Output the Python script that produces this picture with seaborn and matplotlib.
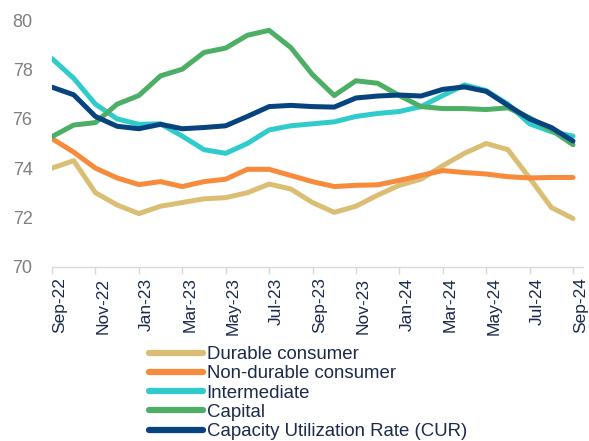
import numpy as np
import pandas as pd
import matplotlib
matplotlib.use("Agg")
import matplotlib.pyplot as plt
import matplotlib.transforms as mtransforms
import seaborn as sns

# ---------- data (monthly Sep-22 .. Sep-24) ----------
months = pd.date_range("2022-09-01", "2024-09-01", freq="MS")
tick_labels = ["Sep-22", "Nov-22", "Jan-23", "Mar-23", "May-23", "Jul-23", "Sep-23",
               "Nov-23", "Jan-24", "Mar-24", "May-24", "Jul-24", "Sep-24"]

durable = [74.0, 74.3, 73.0, 72.5, 72.15, 72.45, 72.6, 72.75, 72.8, 73.0, 73.35, 73.15, 72.6,
           72.2, 72.45, 72.9, 73.3, 73.55, 74.1, 74.6, 75.0, 74.75, 73.6, 72.4, 71.95]
non_durable = [75.2, 74.65, 74.0, 73.6, 73.33, 73.45, 73.25, 73.45, 73.55, 73.95, 73.95, 73.7, 73.45,
               73.25, 73.3, 73.32, 73.5, 73.7, 73.9, 73.82, 73.76, 73.65, 73.6, 73.62, 73.62]
intermediate = [78.45, 77.65, 76.6, 76.0, 75.78, 75.8, 75.3, 74.75, 74.6, 75.0, 75.55, 75.72, 75.8,
                75.88, 76.1, 76.22, 76.3, 76.5, 76.95, 77.38, 77.15, 76.6, 75.8, 75.48, 75.3]
capital = [75.28, 75.75, 75.85, 76.6, 76.95, 77.75, 78.02, 78.7, 78.88, 79.4, 79.6, 78.9, 77.8,
           76.95, 77.55, 77.45, 76.95, 76.5, 76.42, 76.42, 76.38, 76.45, 76.05, 75.55, 74.95]
cur = [77.29, 76.98, 76.1, 75.7, 75.6, 75.78, 75.6, 75.65, 75.72, 76.1, 76.5, 76.55, 76.5,
       76.48, 76.85, 76.93, 76.97, 76.93, 77.2, 77.3, 77.12, 76.55, 76.0, 75.65, 75.1]

series = {
    "Durable consumer": durable,
    "Non-durable consumer": non_durable,
    "Intermediate": intermediate,
    "Capital": capital,
    "Capacity Utilization Rate (CUR)": cur,
}
colors = ["#D9BE73", "#F78B3B", "#30CCCC", "#4CAF65", "#06437F"]

frames = []
for name, vals in series.items():
    frames.append(pd.DataFrame({"pos": np.arange(len(months)), "value": vals, "series": name}))
df = pd.concat(frames, ignore_index=True)

# ---------- plot ----------
sns.set_style("white")
plt.rcParams["font.family"] = ["Liberation Sans", "DejaVu Sans"]

fig = plt.figure(figsize=(5.89, 4.41), dpi=100)
ax = fig.add_axes([52 / 589, 1 - 266.5 / 441, 531 / 589, 246 / 441])

sns.lineplot(data=df, x="pos", y="value", hue="series", palette=colors,
             linewidth=3.6, ax=ax, legend=False, solid_capstyle="round",
             solid_joinstyle="round")

ax.set_xlim(0, 24.46)
ax.set_ylim(70, 80)
ax.set_yticks(np.arange(70, 81, 2))
ax.set_xticks(np.arange(0, 25, 2))
ax.set_xticklabels(tick_labels, rotation=90, fontsize=12.5, color="#1B2A4A", ha="left")
offset = mtransforms.ScaledTranslation(0.06, 0, fig.dpi_scale_trans)
for lbl in ax.get_xticklabels():
    lbl.set_transform(lbl.get_transform() + offset)
ax.tick_params(axis="y", length=0, labelsize=13, labelcolor="#7F7F7F", pad=14)
ax.tick_params(axis="x", length=5, color="#D9D9D9", width=1, pad=3, direction="out")
ax.xaxis.set_ticks_position("bottom")
ax.set_xlabel("")
ax.set_ylabel("")

for s in ["top", "right", "left"]:
    ax.spines[s].set_visible(False)
ax.spines["bottom"].set_color("#D9D9D9")
ax.spines["bottom"].set_linewidth(1)

handles = [plt.Line2D([], [], color=c, lw=4.5, solid_capstyle="round") for c in colors]
fig.legend(handles, list(series.keys()), loc="upper left",
           bbox_to_anchor=(149 / 589, 1 - 346 / 441), frameon=False,
           fontsize=13.4, labelcolor="#1B2A4A", handlelength=2.9, handletextpad=0.2,
           labelspacing=0.12, borderaxespad=0, borderpad=0)

fig.savefig("out.png", dpi=100)
plt.close("all")
